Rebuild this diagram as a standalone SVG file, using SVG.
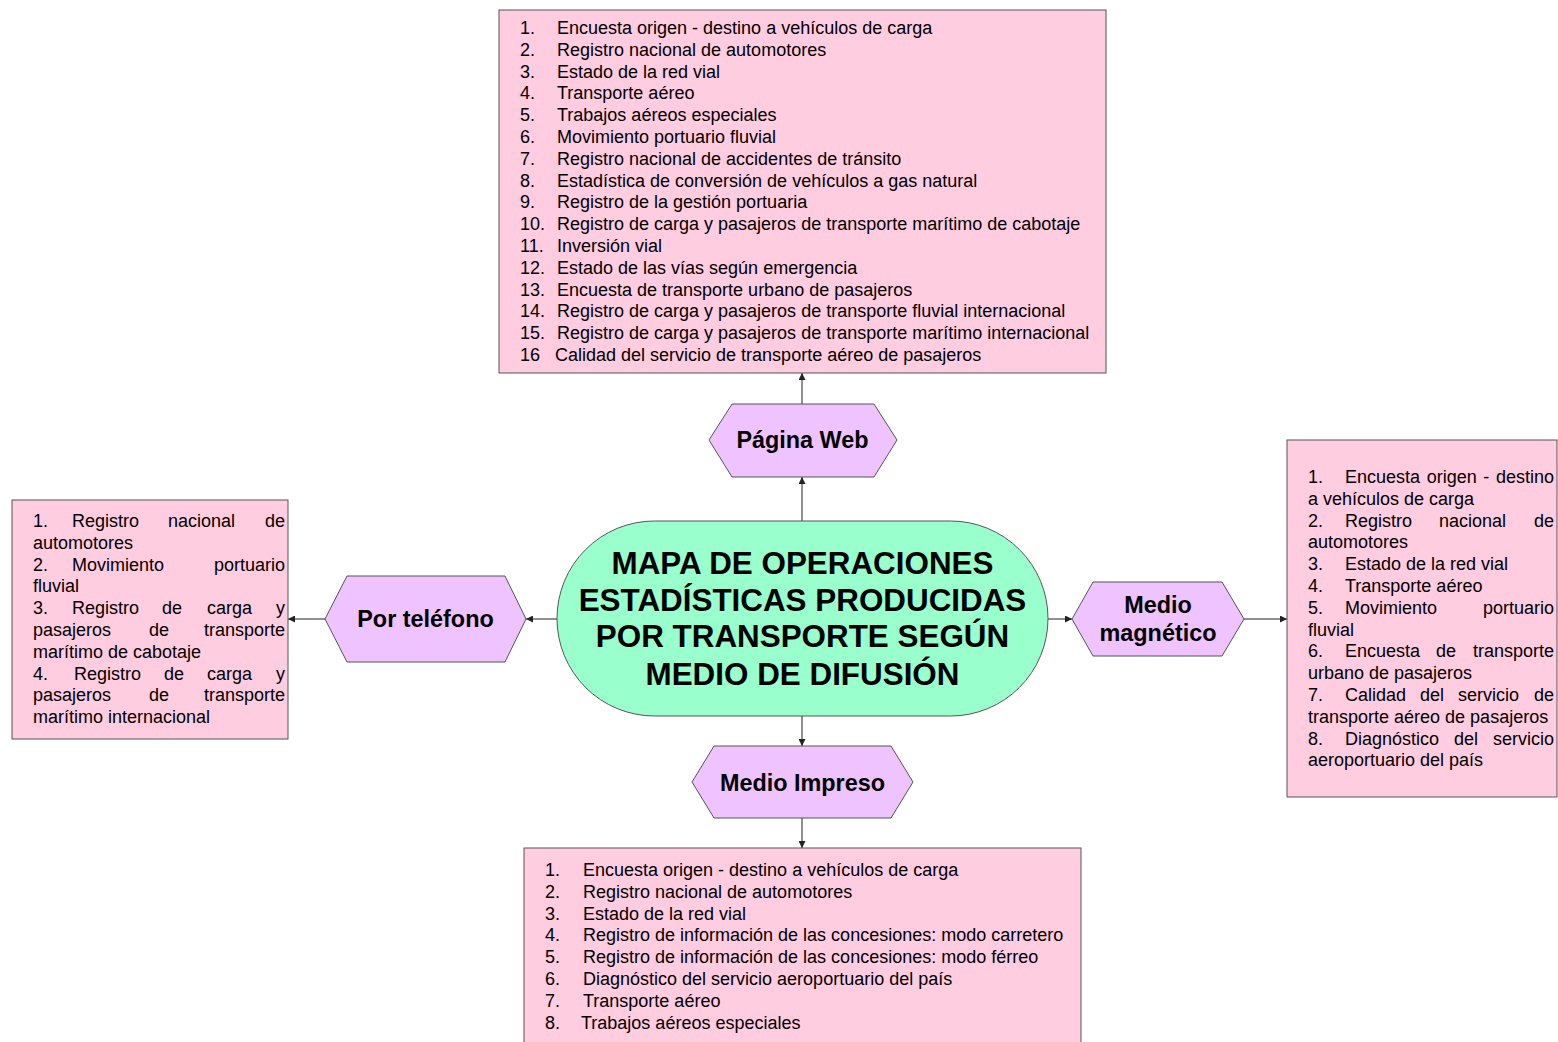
<svg xmlns="http://www.w3.org/2000/svg" width="1558" height="1042" viewBox="0 0 1558 1042">
<style>
text{font-family:"Liberation Sans",Arial,sans-serif;fill:#000}
.box{fill:#FFCCE0;stroke:#555;stroke-width:1}
.hex{fill:#EFC3FF;stroke:#555;stroke-width:1}
.term{fill:#99FFCC;stroke:#555;stroke-width:1}
.it{font-size:18px}
.hl{font-size:23.4px;font-weight:bold;text-anchor:middle}
.tl{font-size:31.4px;font-weight:bold;text-anchor:middle}
.e{text-anchor:end}
.con line{stroke:#222;stroke-width:1;marker-end:url(#ah)}
</style>
<defs>
<marker id="ah" viewBox="0 0 10 10" refX="10" refY="5" markerWidth="9" markerHeight="7" markerUnits="userSpaceOnUse" orient="auto">
<path d="M0,0 L10,5 L0,10 z" fill="#222"/>
</marker>
</defs>
<rect width="1558" height="1042" fill="#fff"/>

<g id="connectors" class="con">
<line x1="802" y1="521" x2="802" y2="477"/>
<line x1="802" y1="404" x2="802" y2="373"/>
<line x1="557" y1="619" x2="526" y2="619"/>
<line x1="325" y1="619" x2="288" y2="619"/>
<line x1="1048" y1="619" x2="1072" y2="619"/>
<line x1="1244" y1="619" x2="1287" y2="619"/>
<line x1="802" y1="716" x2="802" y2="746"/>
<line x1="802" y1="818" x2="802" y2="848"/>
</g>

<g id="center">
<rect class="term" x="557" y="521" width="491" height="195" rx="97.5" ry="97.5"/>
<text class="tl" x="802.5" y="574">MAPA DE OPERACIONES</text>
<text class="tl" x="802.5" y="611">ESTADÍSTICAS PRODUCIDAS</text>
<text class="tl" x="802.5" y="647">POR TRANSPORTE SEGÚN</text>
<text class="tl" x="802.5" y="685">MEDIO DE DIFUSIÓN</text>
</g>

<g id="web">
<polygon class="hex" points="709,440 732,404 874,404 897,440 874,477 732,477"/>
<text class="hl" x="802.5" y="448">Página Web</text>
</g>

<g id="telefono">
<polygon class="hex" points="325,619 347,576 505,576 526,619 505,662 347,662"/>
<text class="hl" x="425.5" y="626.5">Por teléfono</text>
</g>

<g id="magnetico">
<polygon class="hex" points="1072,619 1093,582 1222,582 1244,619 1222,656 1093,656"/>
<text class="hl" x="1158" y="612.5">Medio</text>
<text class="hl" x="1158" y="640.5">magnético</text>
</g>

<g id="impreso">
<polygon class="hex" points="692,782 714,746 891,746 913,782 891,818 714,818"/>
<text class="hl" x="802.5" y="790.5">Medio Impreso</text>
</g>

<g id="lista-web">
<rect class="box" x="499" y="10" width="607" height="363"/>
<g class="it">
<text x="520" y="34">1.</text><text x="557" y="34">Encuesta origen - destino a vehículos de carga</text>
<text x="520" y="55.8">2.</text><text x="557" y="55.8">Registro nacional de automotores</text>
<text x="520" y="77.6">3.</text><text x="557" y="77.6">Estado de la red vial</text>
<text x="520" y="99.4">4.</text><text x="557" y="99.4">Transporte aéreo</text>
<text x="520" y="121.2">5.</text><text x="557" y="121.2">Trabajos aéreos especiales</text>
<text x="520" y="143">6.</text><text x="557" y="143">Movimiento portuario fluvial</text>
<text x="520" y="164.8">7.</text><text x="557" y="164.8">Registro nacional de accidentes de tránsito</text>
<text x="520" y="186.6">8.</text><text x="557" y="186.6">Estadística de conversión de vehículos a gas natural</text>
<text x="520" y="208.4">9.</text><text x="557" y="208.4">Registro de la gestión portuaria</text>
<text x="520" y="230.2">10.</text><text x="557" y="230.2">Registro de carga y pasajeros de transporte marítimo de cabotaje</text>
<text x="520" y="252">11.</text><text x="557" y="252">Inversión vial</text>
<text x="520" y="273.8">12.</text><text x="557" y="273.8">Estado de las vías según emergencia</text>
<text x="520" y="295.6">13.</text><text x="557" y="295.6">Encuesta de transporte urbano de pasajeros</text>
<text x="520" y="317.4">14.</text><text x="557" y="317.4">Registro de carga y pasajeros de transporte fluvial internacional</text>
<text x="520" y="339.2">15.</text><text x="557" y="339.2">Registro de carga y pasajeros de transporte marítimo internacional</text>
<text x="520" y="361">16</text><text x="555" y="361">Calidad del servicio de transporte aéreo de pasajeros</text>
</g>
</g>

<g id="lista-telefono">
<rect class="box" x="12" y="500" width="276" height="239"/>
<g class="it">
<text x="33" y="527">1.</text><text x="72" y="527">Registro</text><text x="168" y="527">nacional</text><text class="e" x="285" y="527">de</text>
<text x="33" y="548.8">automotores</text>
<text x="33" y="570.6">2.</text><text x="72" y="570.6">Movimiento</text><text class="e" x="285" y="570.6">portuario</text>
<text x="33" y="592.4">fluvial</text>
<text x="33" y="614.2">3.</text><text x="72" y="614.2">Registro</text><text x="162" y="614.2">de</text><text x="207" y="614.2">carga</text><text class="e" x="285" y="614.2">y</text>
<text x="33" y="636">pasajeros</text><text x="149" y="636">de</text><text class="e" x="285" y="636">transporte</text>
<text x="33" y="657.8">marítimo de cabotaje</text>
<text x="33" y="679.6">4.</text><text x="74" y="679.6">Registro</text><text x="164" y="679.6">de</text><text x="207" y="679.6">carga</text><text class="e" x="285" y="679.6">y</text>
<text x="33" y="701.4">pasajeros</text><text x="149" y="701.4">de</text><text class="e" x="285" y="701.4">transporte</text>
<text x="33" y="723.2">marítimo internacional</text>
</g>
</g>

<g id="lista-magnetico">
<rect class="box" x="1287" y="440" width="270" height="357"/>
<g class="it">
<text x="1308" y="483">1.</text><text x="1345" y="483" word-spacing="1.6">Encuesta origen - destino</text>
<text x="1308" y="504.8">a vehículos de carga</text>
<text x="1308" y="526.6">2.</text><text x="1345" y="526.6">Registro</text><text x="1439" y="526.6">nacional</text><text class="e" x="1554" y="526.6">de</text>
<text x="1308" y="548.4">automotores</text>
<text x="1308" y="570.2">3.</text><text x="1345" y="570.2">Estado de la red vial</text>
<text x="1308" y="592">4.</text><text x="1345" y="592">Transporte aéreo</text>
<text x="1308" y="613.8">5.</text><text x="1345" y="613.8">Movimiento</text><text class="e" x="1554" y="613.8">portuario</text>
<text x="1308" y="635.6">fluvial</text>
<text x="1308" y="657.4">6.</text><text x="1345" y="657.4">Encuesta</text><text x="1436" y="657.4">de</text><text class="e" x="1554" y="657.4">transporte</text>
<text x="1308" y="679.2">urbano de pasajeros</text>
<text x="1308" y="701">7.</text><text x="1345" y="701">Calidad</text><text x="1420" y="701">del</text><text x="1458" y="701">servicio</text><text class="e" x="1554" y="701">de</text>
<text x="1308" y="722.8">transporte aéreo de pasajeros</text>
<text x="1308" y="744.6">8.</text><text x="1345" y="744.6">Diagnóstico</text><text x="1454" y="744.6">del</text><text class="e" x="1554" y="744.6">servicio</text>
<text x="1308" y="766.4">aeroportuario del país</text>
</g>
</g>

<g id="lista-impreso">
<rect class="box" x="524" y="848" width="557" height="200"/>
<g class="it">
<text x="545" y="876">1.</text><text x="583" y="876">Encuesta origen - destino a vehículos de carga</text>
<text x="545" y="897.8">2.</text><text x="583" y="897.8">Registro nacional de automotores</text>
<text x="545" y="919.6">3.</text><text x="583" y="919.6">Estado de la red vial</text>
<text x="545" y="941.4">4.</text><text x="583" y="941.4">Registro de información de las concesiones: modo carretero</text>
<text x="545" y="963.2">5.</text><text x="583" y="963.2">Registro de información de las concesiones: modo férreo</text>
<text x="545" y="985">6.</text><text x="583" y="985">Diagnóstico del servicio aeroportuario del país</text>
<text x="545" y="1006.8">7.</text><text x="583" y="1006.8">Transporte aéreo</text>
<text x="545" y="1028.6">8.</text><text x="581" y="1028.6">Trabajos aéreos especiales</text>
</g>
</g>
</svg>
